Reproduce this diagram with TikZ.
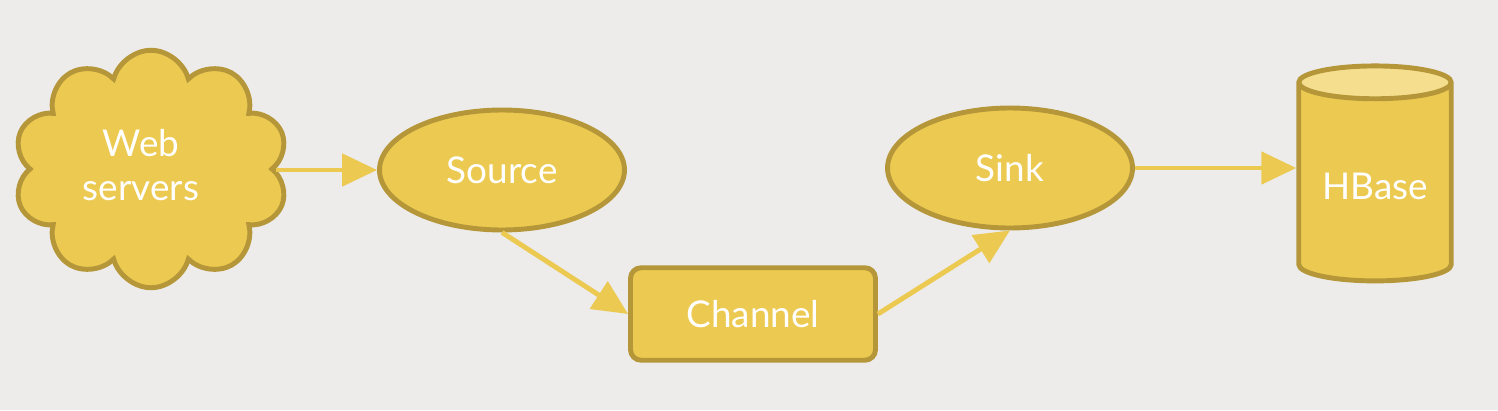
\documentclass[tikz,border=0pt]{standalone}
\usepackage{fontspec}
\setmainfont{Lato}
\usetikzlibrary{shapes.geometric,shapes.symbols,arrows.meta}
\definecolor{bgcol}{RGB}{237,236,234}
\definecolor{goldfill}{RGB}{236,201,80}
\definecolor{goldline}{RGB}{181,151,58}
\definecolor{goldtop}{RGB}{245,222,142}
\begin{document}
\begin{tikzpicture}[x=0.02cm, y=-0.02cm,
    every node/.style={font=\fontsize{21}{25}\selectfont, text=white, align=center},
    box/.style={draw=goldline, fill=goldfill, line width=2.8pt},
    flow/.style={-{Triangle[length=0.7cm,width=0.64cm]}, draw=goldfill, line width=2.8pt}]
    \fill[bgcol] (0,0) rectangle (1498,410);
    \useasboundingbox (0,0) rectangle (1498,410);
    \node[box, cloud, cloud puffs=10, cloud ignores aspect, minimum width=5.5cm, minimum height=4.75cm] (web) at (151,169) {}; 
    \node at (141,165) {Web\\servers};
    \node[box, ellipse, minimum width=4.9cm, minimum height=2.4cm] (src) at (502,170) {Source}; 
    \node[box, rounded corners=6pt, minimum width=4.9cm, minimum height=1.85cm] (chan) at (753,314) {Channel}; 
    \node[box, ellipse, minimum width=4.9cm, minimum height=2.4cm] (sink) at (1010,168) {Sink}; 
    \node[draw=goldline, line width=2.8pt, cylinder, shape border rotate=90, aspect=0.28, cylinder uses custom fill, cylinder body fill=goldfill, cylinder end fill=goldtop, minimum width=3.05cm, minimum height=4.3cm] (hbase) at (1375,186) {HBase};
    \draw[flow] (web.east |- src.west) -- (src.west); \draw[flow] (src.south) -- (chan.west);
    \draw[flow] (chan.east) -- (sink.south);
    \draw[flow] (sink.east) -- (sink.east -| hbase.west);
  \end{tikzpicture}
\end{document}
